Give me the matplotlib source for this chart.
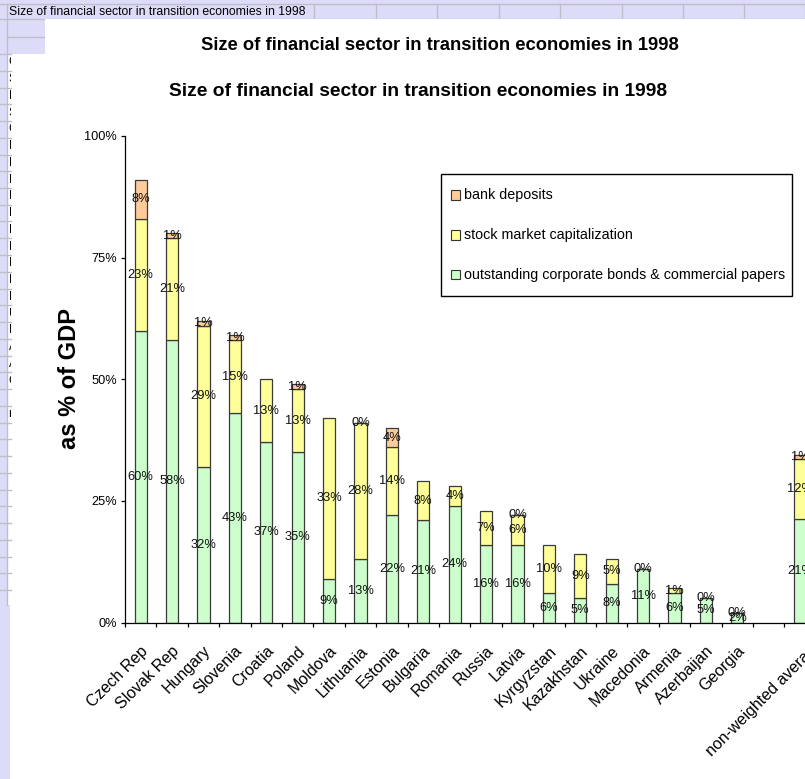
import numpy as np
import matplotlib
matplotlib.use("Agg")
import matplotlib.pyplot as plt
from matplotlib import font_manager
from matplotlib.patches import Rectangle
from matplotlib.lines import Line2D
from matplotlib.transforms import Bbox, TransformedBbox

# financial sector size 1998, % of GDP (None = no value reported)
countries = ["Czech Rep", "Slovak Rep", "Hungary", "Slovenia", "Croatia", "Poland",
             "Moldova", "Lithuania", "Estonia", "Bulgaria", "Romania", "Russia",
             "Latvia", "Kyrgyzstan", "Kazakhstan", "Ukraine", "Macedonia", "Armenia",
             "Azerbaijan", "Georgia", "", "non-weighted average"]
bonds = [60, 58, 32, 43, 37, 35, 9, 13, 22, 21, 24, 16, 16, 6, 5, 8, 11, 6, 5, 2, None, 21.3]
stock = [23, 21, 29, 15, 13, 13, 33, 28, 14, 8, 4, 7, 6, 10, 9, 5, 0, 1, 0, 0, None, 12.4]
deposits = [8, 1, 1, 1, None, 1, None, 0, 4, None, None, None, 0, None, None, None,
            None, None, None, None, None, 0.8]

series_names = ["bank deposits", "stock market capitalization",
                "outstanding corporate bonds & commercial papers"]
series_colors = ["#FFCC99", "#FFFF99", "#CCFFCC"]
yticks = [0, 25, 50, 75, 100]
title = "Size of financial sector in transition economies in 1998"

W, H = 805, 779
plt.rcParams['font.family'] = ['Liberation Sans', 'DejaVu Sans']
names = {f.name for f in font_manager.fontManager.ttflist}
narrow = ['Liberation Sans Narrow', 'Liberation Sans'] if 'Liberation Sans Narrow' in names else ['Liberation Sans']

fig = plt.figure(figsize=(W / 100, H / 100), dpi=100)


def fx(px):
    return px / W


def fy(py):
    return 1 - py / H


def rect(x0, y0, x1, y1, **kw):
    # pixel box (y down) -> figure rectangle
    r = Rectangle((fx(x0), fy(y1)), (x1 - x0) / W, (y1 - y0) / H,
                  transform=fig.transFigure, **kw)
    fig.add_artist(r)
    return r


def hline(y, x0, x1, **kw):
    fig.add_artist(Line2D([fx(x0), fx(x1)], [fy(y), fy(y)], transform=fig.transFigure, **kw))


def vline(x, y0, y1, **kw):
    fig.add_artist(Line2D([fx(x), fx(x)], [fy(y0), fy(y1)], transform=fig.transFigure, **kw))


# spreadsheet behind the chart
lav = "#DCDCF8"
grid = "#BEBEC8"
rect(0, 0, W, H, fc="white", ec="none", zorder=-5)
rect(0, 0, W, 54, fc=lav, ec="none", zorder=-4)
rect(0, 0, 7, H, fc=lav, ec="none", zorder=-4)
rect(0, 605, 10, H, fc=lav, ec="none", zorder=-4)
hline(4, 0, W, color=grid, lw=1, zorder=-3)
hline(19, 0, W, color=grid, lw=1, zorder=-3)
for xg in [314, 375.5, 437, 498.5, 560, 621.5, 683, 744, 804.5]:
    vline(xg, 4, 19, color=grid, lw=1, zorder=-3)
vline(7, 4, 605, color=grid, lw=1, zorder=-3)
hline(37, 7, 45, color=grid, lw=1, zorder=-3)
row_y = 54
while row_y <= 606:
    hline(row_y, 0, 10.5, color=grid, lw=1, zorder=-3)
    row_y += 16.75
fig.text(fx(8.5), fy(12), title, fontsize=8.8, ha="left", va="center", zorder=-3)
cell_clip = TransformedBbox(Bbox([[fx(7.5), 0], [fx(10.5), 1]]), fig.transFigure)
for i, name in enumerate(countries):
    if name:
        t = fig.text(fx(8.5), fy(54 + 16.75 * i + 8.4), name, fontsize=8.8,
                     ha="left", va="center", zorder=-3)
        t.set_clip_box(cell_clip)

# chart object
rect(45, 18.5, W, H, fc="white", ec="none", zorder=-2)

fig.text(fx(440), fy(45), title, fontsize=13.2, weight="bold", ha="center", va="center")
fig.text(fx(418), fy(92), title, fontsize=13.8, weight="bold", ha="center", va="center")
fig.text(fx(69), fy(378), "as % of GDP", fontsize=17, weight="bold", rotation=90,
         ha="center", va="center")

slot = 31.4
ax = fig.add_axes([fx(125), fy(622.5), len(countries) * slot / W, 486.5 / H])
ax.patch.set_visible(False)
ax.set_xlim(0, len(countries))
ax.set_ylim(0, 100)
for s in ["top", "right"]:
    ax.spines[s].set_visible(False)
for s in ["left", "bottom"]:
    ax.spines[s].set_color("black")
    ax.spines[s].set_linewidth(0.9)
ax.set_yticks(yticks, [f"{t}%" for t in yticks])
ax.set_xticks(np.arange(len(countries) + 1))
ax.set_xticklabels([])
ax.tick_params(direction="out", length=3, width=0.9, color="black", labelsize=9.2)
ax.tick_params(axis="y", pad=3)

x = np.arange(len(countries)) + 0.5
bottom = np.zeros(len(countries))
for vals, color in [(bonds, series_colors[2]), (stock, series_colors[1]), (deposits, series_colors[0])]:
    idx = [i for i, v in enumerate(vals) if v is not None]
    h = np.array([vals[i] for i in idx], dtype=float)
    ax.bar(x[idx], h, bottom=bottom[idx], width=0.39, color=color,
           edgecolor="#3A3A3A", linewidth=0.9, zorder=2)
    for i, v in zip(idx, h):
        ax.text(x[i], bottom[i] + v / 2, f"{v:.0f}%", ha="center", va="center",
                fontsize=10.2 if len(narrow) > 1 else 9.3, family=narrow,
                color="#111111", zorder=3)
    bottom[idx] += h

# category labels
px_unit = 100 / 486.5
for i, name in enumerate(countries[:-1]):
    if name:
        ax.text(x[i] + 5 / slot, -26 * px_unit, name, rotation=45, rotation_mode="anchor",
                ha="right", va="center", fontsize=11.5, clip_on=False)
avg = ax.text(x[-1] - 88 / slot, -134 * px_unit, countries[-1], rotation=45,
              rotation_mode="anchor", ha="left", va="baseline", fontsize=11.5)
avg.set_clip_box(TransformedBbox(Bbox([[0, 0], [fx(797), 1]]), fig.transFigure))

# legend
rect(440.5, 174.3, 792.3, 296, fc="white", ec="black", lw=1, zorder=4)
for k, ys in enumerate([195, 235, 275]):
    rect(451, ys - 4.5, 460, ys + 4.5, fc=series_colors[k], ec="#333333", lw=0.8, zorder=5)
    fig.text(fx(463.5), fy(ys), series_names[k], fontsize=10.3, ha="left", va="center", zorder=5)

fig.savefig("out.png", dpi=100)
